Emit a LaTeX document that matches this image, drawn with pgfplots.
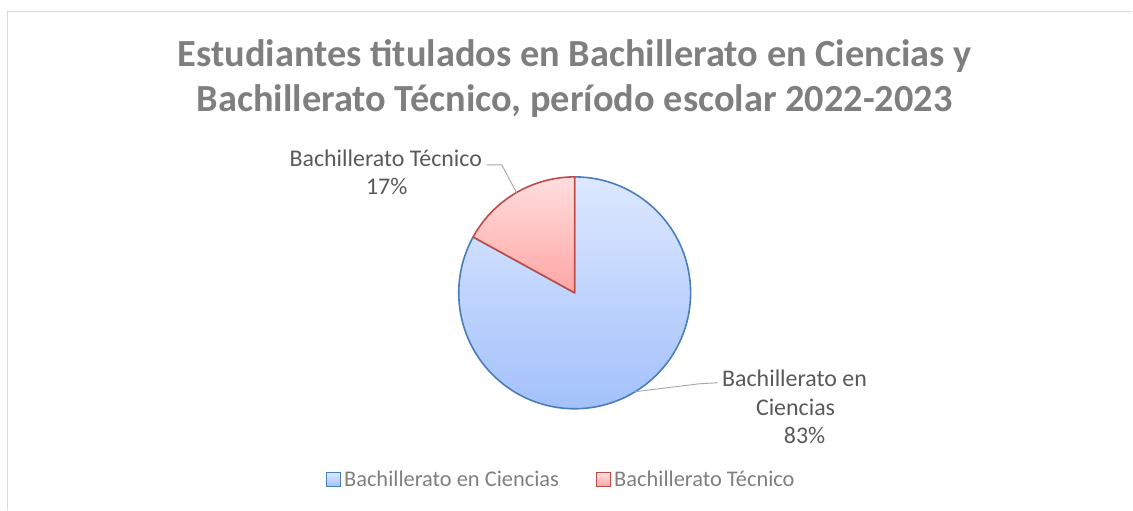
\documentclass[border=0pt]{standalone}
\usepackage{pgfplots}
\pgfplotsset{compat=1.18}
\usepackage{pgfplotstable}
\usepackage{fontspec}
\setmainfont{Carlito}
\definecolor{titlegray}{HTML}{7F7F7F}
\definecolor{labelgray}{HTML}{595959}
\definecolor{legendgray}{HTML}{7F7F7F}
\definecolor{leadergray}{HTML}{A6A6A6}
\definecolor{framegray}{HTML}{D9D9D9}
\definecolor{blueT}{HTML}{DDE8FF}
\definecolor{blueB}{HTML}{A3C1FB}
\definecolor{blueE}{HTML}{4A7EBB}
\definecolor{redT}{HTML}{FFDEDE}
\definecolor{redB}{HTML}{FFA6A4}
\definecolor{redE}{HTML}{BE4B48}

\pgfplotstableread{
category value
Ciencias 83
Tecnico 17
}\piedata

\begin{document}
\begin{tikzpicture}
\pgfplotstablegetelem{0}{value}\of\piedata \let\va\pgfplotsretval
\pgfplotstablegetelem{1}{value}\of\piedata \let\vb\pgfplotsretval
\pgfmathsetmacro\tot{\va+\vb}
\pgfmathsetmacro\fracA{\va/\tot}
\pgfmathsetmacro\angA{360*\fracA}
\pgfmathsetmacro\endA{90-\angA}
\pgfmathtruncatemacro\pctA{round(100*\fracA)}
\pgfmathtruncatemacro\pctB{100-\pctA}
\begin{axis}[
  hide axis, scale only axis,
  width=1133bp, height=510bp,
  xmin=0, xmax=1133, ymin=-510, ymax=0,
  clip=false,
  legend columns=2,
  legend style={draw=none, fill=none, at={(axis cs:562,-480)}, anchor=center,
    font=\fontsize{22.5}{26}\selectfont, text=legendgray,
    nodes={inner sep=0pt, inner xsep=3bp},
    /tikz/every even column/.append style={column sep=34bp}},
  legend image code/.code={\path[#1] (0bp,-7bp) rectangle (14bp,7bp);},
]
% page extent
\path (axis cs:0,0) rectangle (axis cs:1133,-510);
% frame
\draw[framegray, line width=1.3bp] (axis cs:7.5,-510) -- (axis cs:7.5,-11.5) -- (axis cs:1133,-11.5);
% pie slices
\path[top color=blueT, bottom color=blueB, draw=blueE, line width=1.6bp, line join=round]
  (axis cs:575,-293) -- ++(90:116bp) arc[start angle=90, end angle=\endA, radius=116bp] -- cycle;
\path[top color=redT, bottom color=redB, draw=redE, line width=1.6bp, line join=round]
  (axis cs:575,-293) -- ++(\endA:116bp) arc[start angle=\endA, end angle=-270, radius=116bp] -- cycle;
\addlegendimage{top color=blueT, bottom color=blueB, draw=blueE, line width=1.3bp}
\addlegendentry{Bachillerato en Ciencias}
\addlegendimage{top color=redT, bottom color=redB, draw=redE, line width=1.3bp}
\addlegendentry{Bachillerato Técnico}
% leader lines
\draw[leadergray, line width=0.9bp] (axis cs:487,-165) -- (axis cs:502,-165) -- (axis cs:517,-193);
\draw[leadergray, line width=0.9bp] (axis cs:635,-392) -- (axis cs:700,-384) -- (axis cs:718,-383);
% data labels
\node[anchor=base, text=labelgray, font=\fontsize{24}{28}\selectfont, inner sep=0pt] at (axis cs:386,-167) {Bachillerato Técnico};
\node[anchor=base, text=labelgray, font=\fontsize{24}{28}\selectfont, inner sep=0pt] at (axis cs:387,-195) {\pctB\%};
\node[anchor=base, text=labelgray, font=\fontsize{24}{28}\selectfont, inner sep=0pt] at (axis cs:795,-387) {Bachillerato en};
\node[anchor=base, text=labelgray, font=\fontsize{24}{28}\selectfont, inner sep=0pt] at (axis cs:796,-416) {Ciencias};
\node[anchor=base, text=labelgray, font=\fontsize{24}{28}\selectfont, inner sep=0pt] at (axis cs:805,-444) {\pctA\%};
% title
\node[anchor=base, text=titlegray, font=\fontsize{38.5}{44}\selectfont\bfseries, inner sep=0pt] at (axis cs:575,-67) {Estudiantes titulados en Bachillerato en Ciencias y};
\node[anchor=base, text=titlegray, font=\fontsize{38.5}{44}\selectfont\bfseries, inner sep=0pt] at (axis cs:575,-112) {Bachillerato Técnico, período escolar 2022-2023};
\end{axis}
\end{tikzpicture}
\end{document}
